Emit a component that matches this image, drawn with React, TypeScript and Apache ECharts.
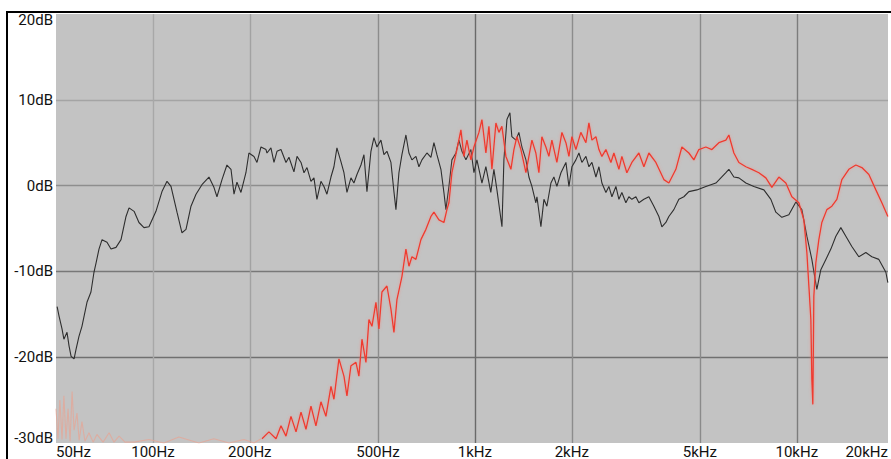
import { useEffect, useRef } from "react";
import * as echarts from "echarts";

// Frequency axis (Hz) – grid lines and tick labels
const freqMin = 50;
const freqMax = 19200;
const gridFreqs = [100, 200, 500, 1000, 2000, 5000, 10000];
const tickFreqs = [50, 100, 200, 500, 1000, 2000, 5000, 10000, 20000];
const tickLabels = ["50Hz", "100Hz", "200Hz", "500Hz", "1kHz", "2kHz", "5kHz", "10kHz", "20kHz"];

// Level axis (dB)
const dbMin = -30;
const dbMax = 20;
const dbStep = 10;

// Measurement A (black trace)
const blackFreq = [
  50.4, 51.1, 52.2, 52.9, 54.1, 54.9, 55.7, 56.9, 57.7, 58.9, 60.2, 62.4, 64.2, 65.6, 66.6, 68.0,
  69.5, 72.0, 74.1, 76.8, 79.6, 82.5, 84.3, 87.4, 90.5, 93.8, 97.2, 102.2, 106.7, 110.6, 113.8,
  118.8, 123.1, 126.7, 131.3, 136.1, 142.0, 149.3, 154.7, 158.1, 163.9, 169.8, 174.8, 178.6,
  182.4, 187.7, 194.5, 198.7, 206.0, 210.5, 216.6, 224.5, 226.1, 232.6, 237.7, 242.9, 249.9,
  259.0, 264.6, 274.2, 280.3, 288.4, 294.6, 301.0, 309.7, 316.4, 323.2, 332.6, 339.8, 347.2,
  357.3, 365.0, 372.9, 383.7, 392.1, 400.6, 412.2, 421.1, 430.3, 442.8, 452.4, 462.2, 475.6,
  485.9, 496.4, 510.8, 521.9, 533.2, 548.7, 560.6, 568.7, 581.0, 593.6, 610.8, 624.1, 637.6,
  656.1, 670.3, 684.9, 709.8, 730.4, 746.2, 762.4, 784.5, 801.5, 813.0, 830.7, 848.7, 873.4,
  892.3, 911.7, 938.1, 972.3, 993.4, 1015, 1052, 1082, 1121, 1146, 1171, 1214, 1231, 1258, 1285,
  1303, 1341, 1370, 1400, 1441, 1472, 1504, 1547, 1559, 1604, 1639, 1674, 1723, 1760, 1798, 1851,
  1918, 1960, 2002, 2060, 2105, 2150, 2213, 2261, 2310, 2377, 2429, 2481, 2553, 2608, 2665, 2742,
  2802, 2862, 2945, 3009, 3074, 3164, 3232, 3350, 3472, 3598, 3729, 3810, 3920, 4005, 4151, 4302,
  4459, 4621, 4893, 5219, 5606, 6022, 6152, 6376, 6609, 6947, 7357, 7903, 8307, 8609, 8987, 9448,
  9933, 10369, 10747, 11136, 11541, 11876, 12310, 12758, 13223, 13703, 14202, 14825, 15586,
  16387, 17107, 17985, 18909, 19181,
];
const blackDb = [
  -14.1, -15.2, -16.7, -17.9, -17.1, -18.7, -19.9, -20.2, -19.1, -17.6, -16.4, -13.6, -12.4, -10.1,
  -9.0, -7.4, -6.3, -6.6, -7.4, -7.2, -6.3, -3.6, -2.6, -3.0, -4.3, -4.9, -4.8, -3.0, -0.7, 0.5,
  -0.1, -3.1, -5.5, -5.1, -2.4, -1.0, 0.1, 1.0, -0.2, -1.3, 0.7, 2.4, 1.9, -1.0, 0.4, -0.8, 1.5,
  3.8, 3.4, 2.7, 4.5, 4.2, 3.8, 4.4, 2.7, 4.0, 4.2, 2.7, 3.3, 1.6, 3.4, 2.7, 1.5, 2.1, 0.5, 0.9,
  -1.6, 0.5, -0.1, -1.0, 1.0, 2.2, 4.4, 2.8, 1.5, -0.8, 0.9, 0.3, 1.3, 2.4, 3.6, -0.7, 4.0, 5.6,
  4.5, 5.3, 3.6, 4.0, 2.7, -0.7, -2.8, 1.5, 3.6, 5.9, 3.8, 3.0, 3.4, 2.2, 3.0, 3.8, 3.3, 5.0, 3.6,
  1.9, -0.8, -2.8, -0.1, 3.0, 3.8, 5.3, 4.0, 3.0, 4.2, 1.5, 3.0, 0.3, 2.2, -0.8, 1.9, -0.5, -4.8,
  3.0, 7.7, 8.5, 5.7, 5.3, 6.2, 4.5, 3.0, 1.0, -0.1, -2.0, -1.3, -4.8, -1.6, -2.4, 0.3, 1.0, -0.1,
  1.5, 2.7, -0.1, 2.2, 3.0, 3.8, 2.7, 3.4, 2.2, 2.7, 1.0, 2.2, 0.3, -0.8, -0.1, -1.3, -0.1, -1.6,
  -0.8, -2.0, -1.3, -1.6, -1.3, -2.0, -1.6, -1.3, -2.4, -3.6, -4.8, -4.3, -3.6, -2.8, -1.6, -1.3,
  -0.7, -0.5, -0.1, 0.3, 1.5, 1.9, 1.0, 0.9, 0.3, -0.1, -0.5, -1.6, -3.1, -3.7, -3.4, -1.9, -2.8,
  -5.9, -8.6, -12.1, -9.8, -8.6, -7.4, -5.9, -4.9, -5.9, -7.1, -8.3, -7.8, -8.3, -8.6, -10.1, -11.3,
];

// Measurement B (red trace)
const redFreq = [
  218.2, 229.3, 241.2, 249.9, 259.0, 268.4, 278.3, 288.4, 298.8, 309.7, 320.9, 332.6, 344.7,
  357.3, 365.0, 378.3, 392.1, 400.6, 412.2, 427.2, 436.4, 446.0, 458.9, 468.8, 479.0, 492.9,
  503.6, 514.5, 533.2, 548.7, 560.6, 572.8, 593.6, 610.8, 624.1, 637.6, 656.1, 680.0, 704.7,
  730.4, 746.2, 773.4, 801.5, 818.9, 830.7, 848.7, 879.6, 905.1, 924.8, 944.8, 972.3, 993.4,
  1029.5, 1051.8, 1082.3, 1105.8, 1129.8, 1162.6, 1187.8, 1213.5, 1248.8, 1294.2, 1322.3,
  1350.9, 1390.1, 1441, 1472, 1504, 1547, 1581, 1615, 1662, 1698, 1735, 1798, 1864, 1918, 1960,
  2002, 2060, 2134, 2213, 2261, 2310, 2377, 2429, 2481, 2553, 2646, 2703, 2802, 2862, 2966, 3074,
  3232, 3350, 3472, 3650, 3865, 4005, 4211, 4396, 4621, 4789, 4963, 5219, 5448, 5728, 6022, 6152,
  6376, 6609, 6947, 7253, 7624, 8015, 8367, 8796, 9247, 9654, 10149, 10517, 10747, 10902, 11059,
  11136, 11216, 11297, 11459, 11708, 11962, 12398, 12850, 13318, 13802, 14510, 15256, 15923,
  16746, 17603, 18375, 19181,
];
const redDb = [
  -29.5, -28.7, -29.5, -28.0, -29.2, -26.9, -28.7, -26.4, -28.4, -25.7, -28.0, -25.2, -26.9,
  -23.4, -24.9, -20.2, -22.2, -24.5, -21.0, -20.6, -22.2, -17.9, -20.6, -15.6, -16.4, -13.6,
  -16.7, -12.4, -11.7, -14.4, -17.1, -13.3, -10.6, -7.4, -9.4, -8.3, -8.6, -6.3, -5.1, -3.6, -3.1,
  -4.0, -4.3, -2.8, -2.0, 1.5, 4.2, 6.5, 3.4, 5.3, 3.0, 4.5, 6.2, 7.7, 3.8, 6.9, 1.9, 7.3, 6.2,
  6.9, 3.4, 1.9, 4.2, 5.7, 4.2, 1.5, 3.4, 5.3, 3.8, 1.5, 5.7, 4.5, 3.4, 5.3, 2.7, 6.2, 5.0, 3.4,
  5.7, 4.2, 6.2, 5.0, 7.3, 5.3, 5.7, 4.2, 3.4, 4.2, 2.7, 3.8, 1.9, 3.4, 1.5, 2.7, 3.8, 2.2, 3.8,
  2.7, 0.7, 0.3, 1.9, 4.5, 3.8, 3.0, 4.2, 4.5, 4.2, 5.0, 5.3, 5.9, 3.8, 2.7, 2.2, 1.9, 1.5, 0.9,
  -0.2, 1.0, 0.3, -1.3, -2.0, -4.0, -7.8, -11.7, -15.6, -22.6, -25.5, -12.9, -9.0, -6.3, -4.3,
  -2.8, -2.4, -1.6, 0.7, 1.9, 2.4, 2.1, 1.3, -0.5, -2.0, -3.6,
];

// Measurement B below its pass band (noise floor)
const floorFreq = [
  50.0, 50.7, 51.4, 52.2, 52.9, 53.7, 54.5, 55.3, 56.1, 56.9, 58.1, 59.0, 60.2, 61.5, 63.3, 65.2,
  67.0, 70.0, 73.1, 75.7, 78.5, 81.9, 87.3, 97.2, 108.2, 120.4, 139.0, 154.7, 172.3, 191.8, 206.0,
  216.6,
];
const floorDb = [
  -26.0, -29.5, -25.0, -29.6, -24.5, -29.5, -26.0, -29.8, -24.0, -28.5, -26.5, -29.7, -27.5,
  -29.8, -28.8, -29.9, -29.0, -29.9, -28.8, -29.9, -29.2, -29.9, -29.9, -29.6, -30.0, -29.3,
  -30.0, -29.5, -30.0, -29.6, -30.0, -29.5,
];

const lg = (f: number) => Math.log10(f);
const toPoints = (fs: number[], dbs: number[]) => fs.map((f, i) => [lg(f), dbs[i]]);

const FONT = "Roboto, 'Noto Sans', sans-serif";

export default function App() {
  const ref = useRef<HTMLDivElement>(null);

  useEffect(() => {
    if (!ref.current) return;
    const chart = echarts.init(ref.current, undefined, { renderer: "svg" });

    // labels beyond the plotted range sit at its edge
    const labelVals = tickFreqs.map((f) => lg(Math.min(Math.max(f, freqMin), freqMax)));
    const labelFor = (v: number) => {
      let best = 0;
      labelVals.forEach((lv, i) => {
        if (Math.abs(lv - v) < Math.abs(labelVals[best] - v)) best = i;
      });
      return tickLabels[best];
    };

    chart.setOption({
      animation: false,
      backgroundColor: "#ffffff",
      grid: {
        left: 56,
        right: 2,
        top: 14,
        bottom: 15,
        show: true,
        backgroundColor: "#c3c3c3",
        borderWidth: 0,
      },
      xAxis: {
        type: "value",
        min: lg(freqMin),
        max: lg(freqMax),
        axisLine: { show: false },
        axisTick: { show: false, customValues: gridFreqs.map(lg) },
        axisLabel: {
          customValues: labelVals,
          formatter: (v: number) => labelFor(v),
          fontFamily: FONT,
          fontSize: 15,
          color: "#111",
          margin: 1,
          alignMinLabel: "left",
          alignMaxLabel: "right",
        },
        splitLine: {
          show: true,
          lineStyle: {
            width: 1.4,
            color: ["#a8a8a8", "#a2a2a2", "#8c8c8c", "#6a6a6a", "#8c8c8c", "#8a8a8a", "#7c7c7c"],
          },
        },
      },
      yAxis: {
        type: "value",
        min: dbMin,
        max: dbMax,
        interval: dbStep,
        axisLine: { show: false },
        axisTick: { show: false },
        axisLabel: {
          formatter: (v: number) => `${v}dB`,
          fontFamily: FONT,
          fontSize: 15,
          lineHeight: 11,
          color: "#111",
          margin: 3,
          verticalAlignMinLabel: "bottom",
          verticalAlignMaxLabel: "top",
        },
        splitLine: {
          show: true,
          showMinLine: false,
          showMaxLine: false,
          // -20, -10, 0, 10 dB
          lineStyle: { width: 1.4, color: ["#707070", "#787878", "#8e8e8e", "#a4a4a4"] },
        },
      },
      graphic: [
        {
          type: "rect",
          shape: { x: 7, y: 12, width: 900, height: 470 },
          style: { fill: "none", stroke: "#000", lineWidth: 2 },
          silent: true,
          z: 100,
        },
      ],
      series: [
        {
          name: "A",
          type: "line",
          data: toPoints(blackFreq, blackDb),
          showSymbol: false,
          clip: true,
          z: 2,
          lineStyle: { color: "#2e2e2e", width: 1.1 },
        },
        {
          name: "B floor",
          type: "line",
          data: toPoints(floorFreq, floorDb),
          showSymbol: false,
          clip: true,
          z: 3,
          lineStyle: { color: "#e6a596", width: 1.1, opacity: 0.75 },
        },
        {
          name: "B",
          type: "line",
          data: toPoints(redFreq, redDb),
          showSymbol: false,
          clip: true,
          z: 4,
          lineStyle: {
            color: "#ef3a2f",
            width: 1.3,
            shadowColor: "rgba(255,120,110,0.6)",
            shadowBlur: 3,
          },
        },
      ],
    });

    return () => chart.dispose();
  }, []);

  return (
    <div
      ref={ref}
      style={{ position: "fixed", left: 0, top: 0, width: 891, height: 459 }}
    />
  );
}
